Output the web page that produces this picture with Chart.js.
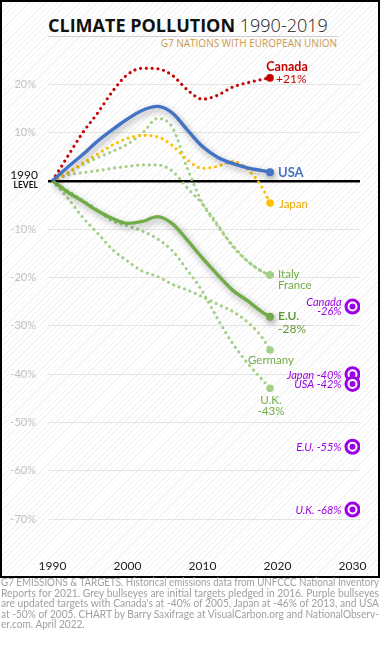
<!DOCTYPE html>
<html><head><meta charset="utf-8">
<script src="https://cdn.jsdelivr.net/npm/chart.js@4.4.1/dist/chart.umd.min.js"></script>
<style>
html,body{margin:0;padding:0;background:#fff;}
#frame{position:absolute;left:0;top:0;width:380px;height:578px;box-sizing:border-box;border:2px solid #000;
 background:repeating-linear-gradient(135deg,#ffffff 0px,#ffffff 3px,#f3f3f3 3px,#f3f3f3 4px);}
#wrap{position:absolute;left:0;top:0;width:380px;height:578px;}
#title{position:absolute;left:48px;top:16px;font-family:"Open Sans",sans-serif;font-size:18px;line-height:18px;color:#111;white-space:nowrap;}
#title b{font-weight:700;}
#title span{font-weight:300;color:#222;}
#rule{position:absolute;left:48px;top:36px;width:290px;height:1px;background:#cfcfcf;}
#sub{position:absolute;right:43px;top:38px;font-family:"Open Sans",sans-serif;font-size:10px;line-height:10px;color:#c9994f;white-space:nowrap;}
#note{position:absolute;left:1px;top:577px;width:378px;font-family:Lato,sans-serif;font-size:11px;line-height:10.6px;color:#a0a0a0;}
#note div{white-space:nowrap;transform-origin:0 0;display:block;width:max-content;}
</style></head>
<body>
<div id="frame"></div>
<div id="title"><b>CLIMATE POLLUTION</b> <span>1990-2019</span></div>
<div id="rule"></div>
<div id="sub">G7 NATIONS WITH EUROPEAN UNION</div>
<div id="wrap"><canvas id="c" width="380" height="578"></canvas></div>
<div id="note">
<div>G7 EMISSIONS &amp; TARGETS. Historical emissions data from UNFCCC National Inventory</div>
<div>Reports for 2021. Grey bullseyes are initial targets pledged in 2016. Purple bullseyes</div>
<div>are updated targets with Canada's at -40% of 2005, Japan at -46% of 2013, and USA</div>
<div>at -50% of 2005. CHART by Barry Saxifrage at VisualCarbon.org and NationalObserv-</div>
<div class="last">er.com. April 2022.</div>
</div>
<script>
// ---- data (% change vs 1990) ----
const years   = [1990,1992,1994,1996,1998,2000,2002,2004,2006,2008,2010,2012,2014,2016,2018,2019];
const canada  = [0, 5.0, 9.9, 14.0, 18.5, 22.0, 23.3, 23.2, 21.8, 18.8, 16.9, 17.7, 19.4, 20.3, 21.0, 21.3];
const usa     = [0, 2.8, 5.4, 8.2, 10.6, 12.8, 14.6, 15.4, 14.0, 10.5, 7.1, 4.9, 3.6, 2.7, 2.1, 1.8];
const japan   = [0, 1.6, 3.6, 5.5, 7.4, 8.8, 9.4, 9.1, 7.3, 4.3, 2.6, 3.0, 4.0, 2.4, -1.5, -4.6];
const italy   = [0, 1.6, 3.3, 4.8, 6.1, 7.6, 9.9, 12.9, 11.0, 2.5, -4.6, -9.3, -13.3, -16.6, -18.8, -19.5];
const france  = [0, 1.2, 1.7, 2.1, 2.6, 3.0, 3.3, 3.3, 2.0, -1.5, -4.8, -9.0, -13.5, -16.6, -18.8, -19.5];
const eu      = [0, -2.3, -4.2, -6.2, -7.8, -8.8, -8.4, -7.4, -8.9, -12.3, -16.0, -19.4, -22.6, -24.8, -27.2, -28.1];
const germany = [0, -3.5, -7.5, -10.8, -14.2, -16.6, -18.7, -19.8, -21.4, -22.6, -24.0, -25.5, -27.0, -29.2, -32.5, -35.0];
const uk      = [0, -2.0, -4.0, -6.0, -8.3, -9.3, -10.4, -12.0, -14.5, -18.5, -22.9, -28.5, -33.6, -37.7, -41.2, -42.9];
const targetNames  = ['Canada', 'Japan', 'USA', 'E.U.', 'U.K.'];
const targetValues = [-26, -40, -42, -55, -68];
const targetYear   = 2030;
const xTickYears   = [1990, 2000, 2010, 2020, 2030];
const yTickValues  = [20, 10, 0, -10, -20, -30, -40, -50, -60, -70];

// ---- styling ----
const RED='#c80000', BLUE='#4472c4', GOLD='#ffc000', GREEN='#70ad47', LGREEN='#a3cf86', PURPLE='#9d00e6';
const last = years.length - 1;
const pts = arr => years.map((y,i)=>({x:y, y:arr[i]}));
function dotted(label, arr, color, order){
  return {label, data:pts(arr), borderColor:color, backgroundColor:color, borderWidth:3.2,
    borderDash:[0,5.8], borderCapStyle:'round', cubicInterpolationMode:'monotone', order,
    pointRadius:c=>c.dataIndex===last?3.8:0, pointBackgroundColor:color, pointBorderWidth:0};
}
function solid(label, arr, color, order){
  return {label, data:pts(arr), borderColor:color, backgroundColor:color, borderWidth:3.4, shadow:true,
    cubicInterpolationMode:'monotone', order,
    pointRadius:c=>c.dataIndex===last?4:0, pointBackgroundColor:color, pointBorderWidth:0};
}
const targetPts = targetValues.map(v=>({x:targetYear, y:v}));

const datasets = [
  {label:'target-dot', type:'scatter', data:targetPts, pointRadius:3, pointBackgroundColor:PURPLE, pointBorderWidth:0, order:0},
  {label:'target-ring', type:'scatter', data:targetPts, pointRadius:6.5, pointBackgroundColor:'#fff', pointBorderColor:PURPLE, pointBorderWidth:3, order:1},
  solid('USA', usa, BLUE, 2),
  solid('E.U.', eu, GREEN, 3),
  dotted('Canada', canada, RED, 4),
  dotted('Japan', japan, GOLD, 5),
  dotted('Italy', italy, LGREEN, 6),
  dotted('France', france, LGREEN, 7),
  dotted('Germany', germany, LGREEN, 8),
  dotted('U.K.', uk, LGREEN, 9)
];

// labels next to end points (dx,dy offsets in px)
const endLabels = [
  {ds:'Canada', color:RED, lines:[
    {t:'Canada', f:'bold 12.5px Lato', dx:17, dy:-11, a:'center'},
    {t:'+21%', f:'12px Lato', dx:6, dy:1, a:'left'}]},
  {ds:'USA', color:BLUE, lines:[{t:'USA', f:'bold 13px Lato', dx:8, dy:1, a:'left'}]},
  {ds:'Japan', color:'#e8a800', lines:[{t:'Japan', f:'11.5px Lato', dx:9, dy:1, a:'left'}]},
  {ds:'Italy', color:GREEN, lines:[
    {t:'Italy', f:'11.5px Lato', dx:8, dy:-1, a:'left'},
    {t:'France', f:'11.5px Lato', dx:8, dy:10, a:'left'}]},
  {ds:'E.U.', color:'#5f9a3a', lines:[
    {t:'E.U.', f:'bold 12px Lato', dx:8, dy:-1, a:'left'},
    {t:'-28%', f:'12px Lato', dx:8, dy:12, a:'left'}]},
  {ds:'Germany', color:GREEN, lines:[{t:'Germany', f:'11.5px Lato', dx:1, dy:10, a:'center'}]},
  {ds:'U.K.', color:GREEN, lines:[
    {t:'U.K.', f:'11.5px Lato', dx:1, dy:12, a:'center'},
    {t:'-43%', f:'11.5px Lato', dx:1, dy:23, a:'center'}]}
];

const shadowPlugin = {
  id:'shadow',
  beforeDatasetDraw(chart,args){
    if(chart.data.datasets[args.index].shadow){const c=chart.ctx;c.save();
      c.shadowColor='rgba(0,0,0,0.35)';c.shadowBlur=6;c.shadowOffsetX=2;c.shadowOffsetY=3;}
  },
  afterDatasetDraw(chart,args){ if(chart.data.datasets[args.index].shadow) chart.ctx.restore(); }
};

const labelPlugin = {
  id:'labels',
  afterDatasetsDraw(chart){
    const ctx=chart.ctx, xs=chart.scales.x, ys=chart.scales.y;
    ctx.save();
    ctx.textBaseline='middle';
    endLabels.forEach(L=>{
      const ds=chart.data.datasets.find(d=>d.label===L.ds);
      const p=ds.data[ds.data.length-1];
      const px=xs.getPixelForValue(p.x), py=ys.getPixelForValue(p.y);
      ctx.fillStyle=L.color;
      L.lines.forEach(l=>{ctx.font=l.f;ctx.textAlign=l.a;ctx.fillText(l.t,px+l.dx,py+l.dy);});
    });
    ctx.fillStyle=PURPLE; ctx.textAlign='right';
    targetNames.forEach((n,i)=>{
      const px=xs.getPixelForValue(targetYear)-11, py=ys.getPixelForValue(targetValues[i]);
      ctx.font='italic 11px Lato';
      if(n==='Canada'){ ctx.fillText(n,px,py-4.5); ctx.fillText(targetValues[i]+'%',px,py+4.5); }
      else ctx.fillText(n+' '+targetValues[i]+'%',px,py+1);
    });
    const y0=ys.getPixelForValue(0);
    ctx.fillStyle='#111';
    ctx.font='12px Lato'; ctx.fillText('1990',38,y0-6);
    ctx.font='bold 8.5px Lato'; ctx.fillText('LEVEL',38,y0+4);
    ctx.restore();
  }
};

new Chart(document.getElementById('c'), {
  type:'line',
  data:{datasets},
  options:{
    responsive:false, animation:false, events:[],
    layout:{padding:{top:60,left:0,right:20,bottom:0}},
    plugins:{legend:{display:false}, tooltip:{enabled:false}},
    scales:{
      x:{type:'linear', min:1989.4, max:2031,
        afterBuildTicks:s=>{s.ticks=xTickYears.map(v=>({value:v}));},
        afterFit:s=>{s.height=23;},
        grid:{display:false, drawTicks:false}, border:{display:false},
        ticks:{autoSkip:false, maxRotation:0, padding:4, color:'#222', font:{family:'Lato', size:12},
          callback:v=>String(v)}},
      y:{type:'linear', min:-77.4, max:25,
        afterBuildTicks:s=>{s.ticks=yTickValues.map(v=>({value:v}));},
        afterFit:s=>{s.width=48;},
        grid:{drawTicks:false, color:c=>c.tick&&c.tick.value===0?'#000':'#e4e4e4',
          lineWidth:c=>c.tick&&c.tick.value===0?2.4:1},
        border:{display:false},
        ticks:{padding:12, color:'#c0c0c0', font:{family:'Lato', size:11},
          callback:v=>v===0?'':v+'%'}}
    }
  },
  plugins:[shadowPlugin, labelPlugin]
});

// fit footnote lines to the full width (justified look, condensed like the original)
function fitNote(){
  const lines=[...document.querySelectorAll('#note div')];
  let scales=[];
  lines.forEach(d=>{
    if(d.classList.contains('last')) return;
    const w=d.getBoundingClientRect().width;
    const s=378/w; scales.push(s);
    d.style.transform='scaleX('+s+')';
  });
  const avg=scales.reduce((a,b)=>a+b,0)/scales.length;
  lines.forEach(d=>{ if(d.classList.contains('last')) d.style.transform='scaleX('+avg+')'; });
}
if(document.fonts&&document.fonts.ready) document.fonts.ready.then(fitNote); else fitNote();
</script>
</body></html>
